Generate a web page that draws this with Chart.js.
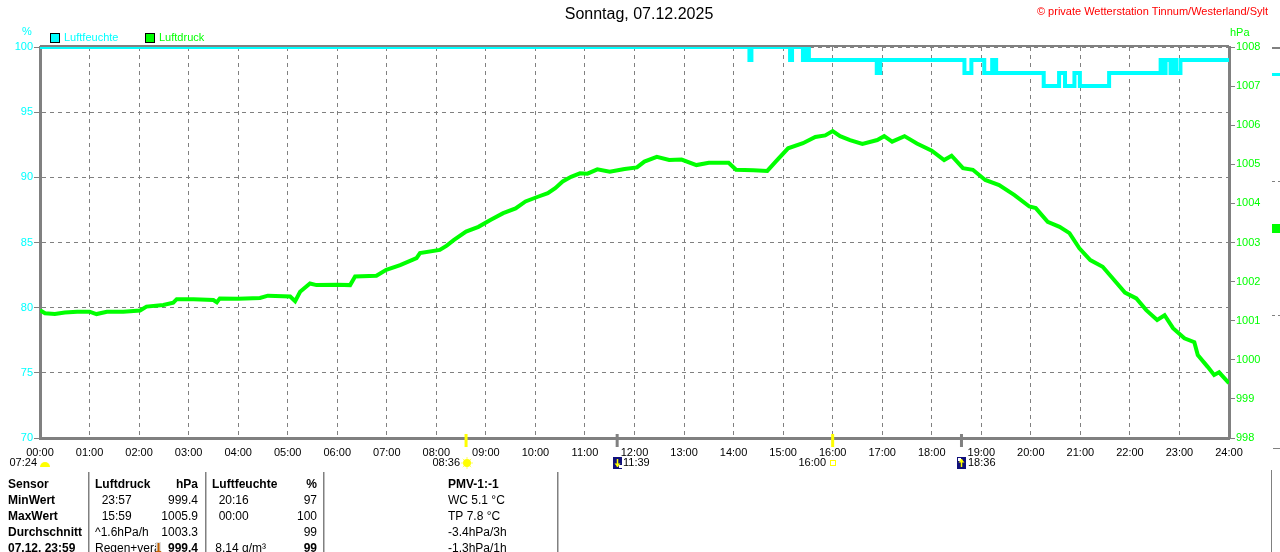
<!DOCTYPE html>
<html>
<head>
<meta charset="utf-8">
<title>Sonntag, 07.12.2025</title>
<script src="https://cdn.jsdelivr.net/npm/chart.js@4.4.1/dist/chart.umd.min.js"></script>
<style>
  html, body { margin: 0; padding: 0; background: #fff; overflow: hidden; }
  canvas { display: block; }
</style>
</head>
<body>
<canvas id="wetterChart" width="1280" height="552" style="width:1280px;height:552px"></canvas>
<script>
// Luftfeuchte (%), Stufenwerte: Zeitpunkt (h) ab dem der Wert gilt
const humTimes  = [0, 14.32, 14.36, 15.14, 15.18, 15.40, 15.43, 15.46, 15.49, 15.52,
                   16.89, 16.96, 18.66, 18.80, 19.06, 19.22, 19.30, 20.26, 20.57, 20.69,
                   20.88, 20.99, 21.58, 22.62, 22.68, 22.72, 22.82, 22.87, 22.93, 23.02, 24];
const humValues = [100, 99, 100, 99, 100, 99, 100, 99, 100, 99,
                   98, 99, 98, 99, 98, 99, 98, 97, 98, 97,
                   98, 97, 98, 99, 98, 99, 98, 99, 98, 99, 99];

// Luftdruck (hPa)
const pressTimes  = [0.00, 0.10, 0.30, 0.50, 0.75, 1.00, 1.14, 1.35, 1.68, 2.02,
                     2.15, 2.49, 2.69, 2.76, 3.10, 3.50, 3.57, 3.63, 4.00, 4.44,
                     4.60, 5.05, 5.15, 5.25, 5.45, 5.58, 6.00, 6.26, 6.36, 6.79,
                     6.99, 7.27, 7.60, 7.67, 8.07, 8.21, 8.35, 8.60, 8.85, 9.10,
                     9.35, 9.60, 9.80, 10.05, 10.25, 10.40, 10.55, 10.72, 10.90, 11.05,
                     11.25, 11.50, 11.80, 12.05, 12.20, 12.45, 12.70, 12.95, 13.25, 13.50,
                     13.90, 14.05, 14.40, 14.68, 14.85, 15.10, 15.40, 15.65, 15.85, 16.00,
                     16.15, 16.35, 16.60, 16.90, 17.04, 17.20, 17.45, 17.70, 18.00, 18.25,
                     18.40, 18.63, 18.83, 19.08, 19.36, 19.67, 19.97, 20.10, 20.34, 20.58,
                     20.78, 20.98, 21.20, 21.45, 21.62, 21.90, 22.13, 22.33, 22.55, 22.70,
                     22.87, 23.10, 23.30, 23.37, 23.57, 23.70, 23.80, 24.00];
const pressValues = [1001.27, 1001.19, 1001.17, 1001.21, 1001.23, 1001.23, 1001.17, 1001.23, 1001.23, 1001.26,
                     1001.36, 1001.40, 1001.46, 1001.55, 1001.55, 1001.53, 1001.47, 1001.57, 1001.56, 1001.58,
                     1001.64, 1001.62, 1001.50, 1001.74, 1001.95, 1001.91, 1001.92, 1001.91, 1002.13, 1002.15,
                     1002.30, 1002.42, 1002.60, 1002.73, 1002.81, 1002.92, 1003.06, 1003.28, 1003.40, 1003.58,
                     1003.75, 1003.87, 1004.05, 1004.17, 1004.26, 1004.39, 1004.56, 1004.68, 1004.77, 1004.76,
                     1004.87, 1004.81, 1004.88, 1004.92, 1005.07, 1005.19, 1005.11, 1005.12, 1004.98, 1005.04,
                     1005.04, 1004.86, 1004.85, 1004.83, 1005.07, 1005.41, 1005.54, 1005.70, 1005.74, 1005.85,
                     1005.72, 1005.62, 1005.52, 1005.62, 1005.72, 1005.58, 1005.72, 1005.53, 1005.35, 1005.11,
                     1005.22, 1004.90, 1004.86, 1004.60, 1004.47, 1004.21, 1003.92, 1003.88, 1003.53, 1003.40,
                     1003.24, 1002.85, 1002.55, 1002.38, 1002.13, 1001.72, 1001.57, 1001.27, 1001.02, 1001.14,
                     1000.81, 1000.55, 1000.45, 1000.12, 999.82, 999.61, 999.68, 999.40];

// Sonne/Mond-Ereignisse auf der Zeitachse
const eventTimes  = [8.6, 11.65, 16.0, 18.6];
const eventColors = ['#ffff00', '#808080', '#ffff00', '#808080'];

// Tabelle unter dem Diagramm
const tableRows = [
  ['Sensor',       'Luftdruck', 'hPa',    'Luftfeuchte', '%',   'PMV-1:-1'],
  ['MinWert',      '  23:57',   '999.4',  '  20:16',     '97',  'WC 5.1 °C'],
  ['MaxWert',      '  15:59',   '1005.9', '  00:00',     '100', 'TP 7.8 °C'],
  ['Durchschnitt', '^1.6hPa/h', '1003.3', '',            '99',  '-3.4hPa/3h'],
  ['07.12. 23:59', 'Regen+verär', '999.4', ' 8.14 g/m³', '99',  '-1.3hPa/1h']
];

const GRID = '#808080';
const CYAN = '#00ffff';
const GREEN = '#00ff00';
const FONT = "'Liberation Sans', Arial, sans-serif";

function hourLabel(v) {
  return (v < 10 ? '0' : '') + v + ':00';
}

function drawSun(ctx, x, y) {
  ctx.save();
  ctx.strokeStyle = '#ffff60';
  ctx.lineWidth = 1;
  for (let i = 0; i < 8; i++) {
    const a = i * Math.PI / 4;
    ctx.beginPath();
    ctx.moveTo(x + Math.cos(a) * 4, y + Math.sin(a) * 4);
    ctx.lineTo(x + Math.cos(a) * 6, y + Math.sin(a) * 6);
    ctx.stroke();
  }
  ctx.fillStyle = '#ffff00';
  ctx.beginPath();
  ctx.arc(x, y, 4, 0, Math.PI * 2);
  ctx.fill();
  ctx.restore();
}

function drawMoonBox(ctx, x, y, up) {
  ctx.save();
  ctx.fillStyle = '#10107a';
  ctx.fillRect(x, y, 9, 12);
  ctx.fillStyle = '#ffffff';
  if (up) ctx.fillRect(x + 1, y + 1, 3, 3); else ctx.fillRect(x + 6, y + 8, 3, 3);
  ctx.strokeStyle = '#ffff00';
  ctx.fillStyle = '#ffff00';
  ctx.lineWidth = 1.5;
  ctx.beginPath();
  ctx.moveTo(x + 4.5, y + 2);
  ctx.lineTo(x + 4.5, y + 10);
  ctx.stroke();
  ctx.beginPath();
  if (up) {
    ctx.moveTo(x + 1.5, y + 5.5); ctx.lineTo(x + 4.5, y + 2); ctx.lineTo(x + 7.5, y + 5.5);
  } else {
    ctx.moveTo(x + 1.5, y + 6.5); ctx.lineTo(x + 4.5, y + 10); ctx.lineTo(x + 7.5, y + 6.5);
  }
  ctx.fill();
  ctx.restore();
}

const extrasPlugin = {
  id: 'extras',
  beforeDatasetsDraw(chart) {
    const ctx = chart.ctx;
    const a = chart.chartArea;
    ctx.save();
    ctx.strokeStyle = GRID;
    ctx.lineWidth = 2;
    ctx.beginPath();
    ctx.moveTo(a.left, a.top - 1);
    ctx.lineTo(a.right, a.top - 1);
    ctx.stroke();
    ctx.restore();
  },
  afterDraw(chart) {
    const ctx = chart.ctx;
    const xs = chart.scales.x;
    ctx.save();
    ctx.textBaseline = 'middle';

    // Titel und Copyright
    ctx.fillStyle = '#000';
    ctx.font = '16px ' + FONT;
    ctx.textAlign = 'center';
    ctx.fillText('Sonntag, 07.12.2025', 639, 15);
    ctx.fillStyle = '#ff0000';
    ctx.font = '11px ' + FONT;
    ctx.textAlign = 'right';
    ctx.fillText('© private Wetterstation Tinnum/Westerland/Sylt', 1268, 12);

    // Einheiten
    ctx.font = '11px ' + FONT;
    ctx.textAlign = 'left';
    ctx.fillStyle = CYAN;
    ctx.fillText('%', 22, 32);
    ctx.fillStyle = GREEN;
    ctx.fillText('hPa', 1230, 33);

    // Legende
    ctx.lineWidth = 1;
    ctx.strokeStyle = '#000';
    ctx.fillStyle = CYAN;
    ctx.fillRect(50.5, 33.5, 9, 9);
    ctx.strokeRect(50.5, 33.5, 9, 9);
    ctx.fillText('Luftfeuchte', 64, 38);
    ctx.fillStyle = GREEN;
    ctx.fillRect(145.5, 33.5, 9, 9);
    ctx.strokeRect(145.5, 33.5, 9, 9);
    ctx.fillText('Luftdruck', 159, 38);

    // Markierungen auf der Zeitachse
    eventTimes.forEach((t, i) => {
      const px = xs.getPixelForValue(t);
      ctx.fillStyle = eventColors[i];
      ctx.fillRect(px - 1.5, 434, 3, 13);
    });

    ctx.fillStyle = '#000';
    ctx.font = '11px ' + FONT;
    ctx.textAlign = 'right';
    ctx.fillText('07:24', 37, 463);
    ctx.fillStyle = '#ffff00';
    ctx.beginPath();
    ctx.arc(45, 467, 5, Math.PI, 0);
    ctx.fill();
    ctx.fillStyle = '#000';
    ctx.fillText('08:36', 460, 463);
    drawSun(ctx, 467, 463);
    drawMoonBox(ctx, 613, 457, false);
    ctx.textAlign = 'left';
    ctx.fillStyle = '#000';
    ctx.fillText('11:39', 623, 463);
    ctx.textAlign = 'right';
    ctx.fillText('16:00', 826, 463);
    ctx.strokeStyle = '#ffff00';
    ctx.lineWidth = 1;
    ctx.strokeRect(830.5, 460.5, 5, 5);
    drawMoonBox(ctx, 957, 457, true);
    ctx.textAlign = 'left';
    ctx.fillStyle = '#000';
    ctx.fillText('18:36', 968, 463);

    // Reste rechts am Rand
    ctx.fillStyle = GRID;
    ctx.fillRect(1272, 47, 8, 2);
    ctx.fillRect(1272, 181, 3, 1);
    ctx.fillRect(1278, 181, 2, 1);
    ctx.fillRect(1272, 315, 3, 1);
    ctx.fillRect(1278, 315, 2, 1);
    ctx.fillRect(1273, 448, 7, 1);
    ctx.fillRect(1271, 470, 1, 82);
    ctx.fillStyle = CYAN;
    ctx.fillRect(1272, 73, 8, 3);
    ctx.fillStyle = GREEN;
    ctx.fillRect(1272, 224, 8, 9);

    // Tabelle
    ctx.fillStyle = GRID;
    [88, 205, 323, 557].forEach(x => ctx.fillRect(x, 472, 1.5, 80));
    const rowY = [485, 501, 517, 533, 549];
    tableRows.forEach((row, r) => {
      const y = rowY[r];
      const head = r === 0;
      const bold = '600 12px ' + FONT;
      const norm = '12px ' + FONT;
      ctx.fillStyle = '#000';
      ctx.textAlign = 'left';
      ctx.font = bold;
      ctx.fillText(row[0], 8, y);
      ctx.font = head ? bold : norm;
      if (r === 4) {
        ctx.save();
        ctx.beginPath();
        ctx.rect(89, y - 9, 67, 18);
        ctx.clip();
        ctx.fillText(row[1], 95, y);
        ctx.restore();
        // Trendpfeil
        ctx.fillStyle = '#e0e0e0';
        ctx.fillRect(156, y - 7, 5, 14);
        ctx.strokeStyle = '#c06000';
        ctx.lineWidth = 2;
        ctx.beginPath();
        ctx.moveTo(158.5, y - 6); ctx.lineTo(158.5, y + 5);
        ctx.stroke();
        ctx.fillStyle = '#c06000';
        ctx.beginPath();
        ctx.moveTo(155.5, y + 2); ctx.lineTo(158.5, y + 7); ctx.lineTo(161.5, y + 2);
        ctx.fill();
        ctx.fillStyle = '#000';
      } else {
        ctx.fillText(row[1], 95, y);
      }
      ctx.textAlign = 'right';
      ctx.font = (head || r === 4) ? bold : norm;
      ctx.fillText(row[2], 198, y);
      ctx.textAlign = 'left';
      ctx.font = head ? bold : norm;
      ctx.fillText(row[3], 212, y);
      ctx.textAlign = 'right';
      ctx.font = (head || r === 4) ? bold : norm;
      ctx.fillText(row[4], 317, y);
      ctx.textAlign = 'left';
      ctx.font = head ? bold : norm;
      ctx.fillText(row[5], 448, y);
    });
    ctx.restore();
  }
};

function createWetterChart() {
  const ctx = document.getElementById('wetterChart').getContext('2d');

  const humData = humTimes.map((t, i) => ({ x: t, y: humValues[i] }));
  const pressData = pressTimes.map((t, i) => ({ x: t, y: pressValues[i] }));

  return new Chart(ctx, {
    type: 'line',
    data: {
      datasets: [{
        label: 'Luftdruck',
        data: pressData,
        yAxisID: 'yP',
        borderColor: GREEN,
        borderWidth: 4,
        pointRadius: 0,
        tension: 0,
        fill: false
      }, {
        label: 'Luftfeuchte',
        data: humData,
        yAxisID: 'yH',
        borderColor: CYAN,
        borderWidth: 4,
        pointRadius: 0,
        stepped: 'before',
        fill: false
      }]
    },
    options: {
      responsive: false,
      animation: false,
      devicePixelRatio: 1,
      layout: { padding: { top: 47, left: 0, right: 0, bottom: 0 } },
      plugins: {
        legend: { display: false },
        title: { display: false },
        tooltip: { enabled: false }
      },
      scales: {
        x: {
          type: 'linear',
          min: 0,
          max: 24,
          afterFit: function(scale) { scale.height = 114; },
          ticks: {
            stepSize: 1,
            autoSkip: false,
            maxRotation: 0,
            padding: 8,
            color: '#000',
            font: { family: FONT, size: 11 },
            callback: function(value) { return hourLabel(value); }
          },
          grid: {
            color: GRID,
            lineWidth: 1,
            drawTicks: false
          },
          border: { color: GRID, width: 3, dash: [4, 4] }
        },
        yH: {
          position: 'left',
          min: 70,
          max: 100,
          afterFit: function(scale) { scale.width = 40; },
          ticks: {
            stepSize: 5,
            padding: 1,
            color: CYAN,
            font: { family: FONT, size: 11 }
          },
          grid: {
            color: GRID,
            lineWidth: 1,
            tickLength: 6,
            tickColor: GRID
          },
          border: { color: GRID, width: 3, dash: [4, 4] }
        },
        yP: {
          position: 'right',
          min: 998,
          max: 1008,
          afterFit: function(scale) { scale.width = 51; },
          ticks: {
            stepSize: 1,
            padding: 1,
            color: GREEN,
            font: { family: FONT, size: 11 },
            callback: function(value) { return String(value); }
          },
          grid: {
            drawOnChartArea: false,
            tickLength: 6,
            tickColor: GRID,
            lineWidth: 1
          },
          border: { color: GRID, width: 3 }
        }
      }
    },
    plugins: [extrasPlugin]
  });
}

document.addEventListener('DOMContentLoaded', function() {
  if (document.getElementById('wetterChart')) {
    createWetterChart();
  }
});
</script>
</body>
</html>
